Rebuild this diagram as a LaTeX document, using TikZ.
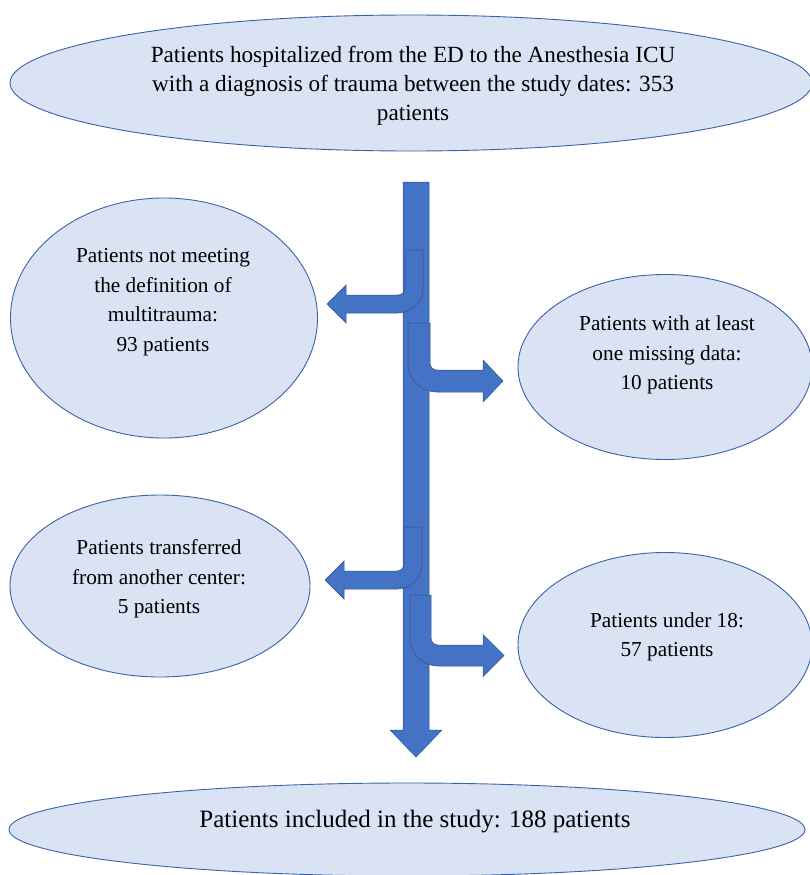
\documentclass[tikz,border=0pt]{standalone}
\usepackage{fontspec}
\setmainfont{Liberation Serif}
\usetikzlibrary{shapes.geometric}
\definecolor{ellfill}{HTML}{DAE3F3}
\definecolor{elldraw}{HTML}{3A62A8}
\definecolor{arrfill}{HTML}{4472C4}
\definecolor{arrdraw}{HTML}{2F528F}
\tikzset{
  oval/.style={ellipse, draw=elldraw, fill=ellfill, line width=0.9pt, inner sep=0pt, outer sep=0pt},
  smalltxt/.style={align=center, font=\fontsize{21.3}{29.5}\selectfont, inner sep=0pt},
  toptxt/.style={align=center, font=\fontsize{23.2}{29}\selectfont, inner sep=0pt},
  bottxt/.style={align=center, font=\fontsize{25}{30}\selectfont, inner sep=0pt},
  blockarrow/.style={fill=arrfill, draw=arrdraw, line width=0.5pt, line join=miter}
}
\begin{document}
\begin{tikzpicture}[x=1pt, y=-1pt]
\useasboundingbox (0,0) rectangle (809,875);
% ellipses
\node[oval, minimum width=802pt, minimum height=136pt] (top) at (411,83) {};
\node[oval, minimum width=307pt, minimum height=240pt] (le1) at (164,318) {};
\node[oval, minimum width=294pt, minimum height=185pt] (re1) at (665,367) {};
\node[oval, minimum width=300pt, minimum height=182pt] (le2) at (160,586) {};
\node[oval, minimum width=294pt, minimum height=185pt] (re2) at (665,645) {};
\node[oval, minimum width=796pt, minimum height=93pt] (bot) at (407,829.5) {};
% texts
\node[toptxt] (ttop) at (413,86) {Patients hospitalized from the ED to the Anesthesia ICU\\with a diagnosis of trauma between the study dates: 353\\patients};
\node[smalltxt] (tle1) at (163,302) {Patients not meeting\\the definition of\\multitrauma:\\93 patients};
\node[smalltxt] (tre1) at (667,355) {Patients with at least\\one missing data:\\10 patients};
\node[smalltxt] (tle2) at (159,579) {Patients transferred\\from another center:\\5 patients};
\node[smalltxt] (tre2) at (667,637) {Patients under 18:\\57 patients};
\node[bottxt] (tbot) at (415,822) {Patients included in the study: 188 patients};
% main vertical arrow
\draw[blockarrow] (403,182) -- (429,182) -- (429,730) -- (442,730) -- (416,757) -- (390,730) -- (403,730) -- cycle;
% left arrow 1
\draw[blockarrow] (405,250) -- (423,250) -- (423,288) .. controls (423,301.8) and (411.8,313) .. (398,313) -- (346,313) -- (346,323) -- (327,304) -- (346,285) -- (346,295) -- (398,295) .. controls (401.9,295) and (405,291.9) .. (405,288) -- cycle;
% right arrow 1
\draw[blockarrow] (408,323) -- (430,323) -- (430,363) .. controls (430,366.9) and (433.1,370) .. (437,370) -- (483,370) -- (483,360) -- (503,381) -- (483,402) -- (483,392) -- (437,392) .. controls (421,392) and (408,379) .. (408,363) -- cycle;
% left arrow 2
\draw[blockarrow] (404,527) -- (422,527) -- (422,564) .. controls (422,577.8) and (410.8,589) .. (397,589) -- (344,589) -- (344,599) -- (325,580) -- (344,561) -- (344,571) -- (397,571) .. controls (400.9,571) and (404,567.9) .. (404,564) -- cycle;
% right arrow 2
\draw[blockarrow] (410,595) -- (431,595) -- (431,638) .. controls (431,641.9) and (434.1,645) .. (438,645) -- (483,645) -- (483,634.5) -- (504,655.5) -- (483,676.5) -- (483,666) -- (438,666) .. controls (422.5,666) and (410,653.5) .. (410,638) -- cycle;
\end{tikzpicture}
\end{document}
